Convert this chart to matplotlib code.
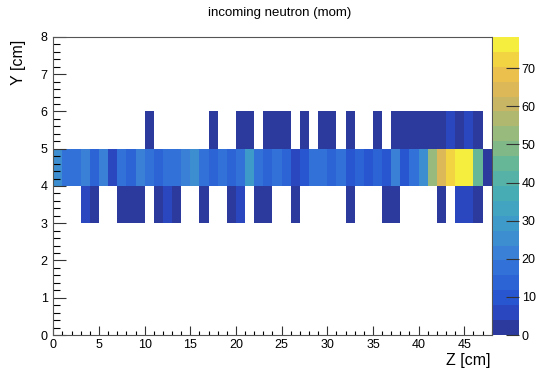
import numpy as np
import matplotlib.pyplot as plt
from matplotlib.colors import ListedColormap, BoundaryNorm
from matplotlib.ticker import MultipleLocator

plt.rcParams['font.family'] = ['Liberation Sans', 'DejaVu Sans']

# Histogram binning (1 cm bins)
z_edges = np.arange(0, 49)
y_edges = np.arange(0, 9)

# Bin contents, one list per y row (48 z bins each)
row_y3 = [0, 0, 0, 5, 2, 0, 0, 2, 2, 2,
          0, 2, 5, 2, 0, 0, 2, 0, 0, 2,
          5, 0, 2, 2, 0, 0, 2, 0, 0, 0,
          0, 0, 2, 0, 0, 0, 2, 2, 0, 0,
          0, 0, 2, 0, 5, 5, 2, 0]
row_y4 = [24, 17, 17, 22, 12, 21, 7, 19, 12, 22,
          17, 12, 17, 18, 22, 26, 16, 13, 16, 12,
          17, 31, 18, 13, 18, 13, 6, 11, 16, 19,
          13, 17, 11, 12, 8, 12, 9, 22, 10, 17,
          25, 54, 65, 72, 76, 78, 45, 2]
row_y5 = [0, 0, 0, 0, 0, 0, 0, 0, 0, 0,
          2, 0, 0, 0, 0, 0, 0, 2, 0, 0,
          2, 2, 0, 2, 2, 2, 0, 2, 0, 2,
          2, 0, 2, 0, 0, 2, 0, 2, 2, 2,
          2, 2, 2, 5, 2, 5, 2, 0]

z_max = 78.2

# kBird palette, 20 contour colours as they appear in the rendered picture
palette = ['#2b3a9c', '#2a47c0', '#2856d0', '#2c64d6', '#3272d8',
           '#3a80d6', '#3c8ed0', '#3e9ac8', '#42a4c0', '#48acb4',
           '#56b2a6', '#66b698', '#80b888', '#98ba7c', '#b0b870',
           '#c8b664', '#dcb858', '#ecc04c', '#f2d442', '#f6ee3e']


def main():
    cmap = ListedColormap(palette)
    levels = np.linspace(0, z_max, len(palette) + 1)
    norm = BoundaryNorm(levels, cmap.N)

    counts = np.zeros((len(y_edges) - 1, len(z_edges) - 1))
    counts[3] = row_y3
    counts[4] = row_y4
    counts[5] = row_y5
    counts = np.ma.masked_equal(counts, 0)

    fig = plt.figure(figsize=(5.38, 3.77), dpi=100)
    ax = fig.add_axes([0.0991, 0.1114, 0.8148, 0.7905])
    cax = fig.add_axes([0.9164, 0.1114, 0.0483, 0.7905])

    mesh = ax.pcolormesh(z_edges, y_edges, counts, cmap=cmap, norm=norm)
    ax.set_xlim(0, 48)
    ax.set_ylim(0, 8)

    ax.xaxis.set_major_locator(MultipleLocator(5))
    ax.xaxis.set_minor_locator(MultipleLocator(1))
    ax.yaxis.set_major_locator(MultipleLocator(1))
    ax.yaxis.set_minor_locator(MultipleLocator(0.2))
    ax.tick_params(axis='x', which='major', direction='in', length=6.5,
                   width=0.8, labelsize=9, pad=3)
    ax.tick_params(axis='x', which='minor', direction='in', length=3.2, width=0.8)
    ax.tick_params(axis='y', which='major', direction='in', length=9.4,
                   width=0.8, labelsize=9, pad=4)
    ax.tick_params(axis='y', which='minor', direction='in', length=4.7, width=0.8)
    ax.tick_params(colors='#333333', labelcolor='black')
    for sp in ax.spines.values():
        sp.set_color('#555555')
        sp.set_linewidth(0.8)

    cbar = fig.colorbar(mesh, cax=cax, ticks=np.arange(0, 80, 10))
    cbar.outline.set_visible(False)
    cax.tick_params(direction='in', length=9.4, width=0.8, labelsize=9,
                    pad=2, colors='#333333', labelcolor='black')
    cax.minorticks_off()

    fig.text(0.52, 1 - 13 / 377, 'incoming neutron (mom)', ha='center',
             va='center', fontsize=9.5)
    fig.text(491 / 538, 1 - 361 / 377, 'Z [cm]', ha='right', va='center',
             fontsize=11.5)
    fig.text(18 / 538, 1 - 62 / 377, 'Y [cm]', ha='center', va='center',
             rotation=90, fontsize=11.5)

    fig.savefig('out.png', dpi=100)


if __name__ == "__main__":
    main()
